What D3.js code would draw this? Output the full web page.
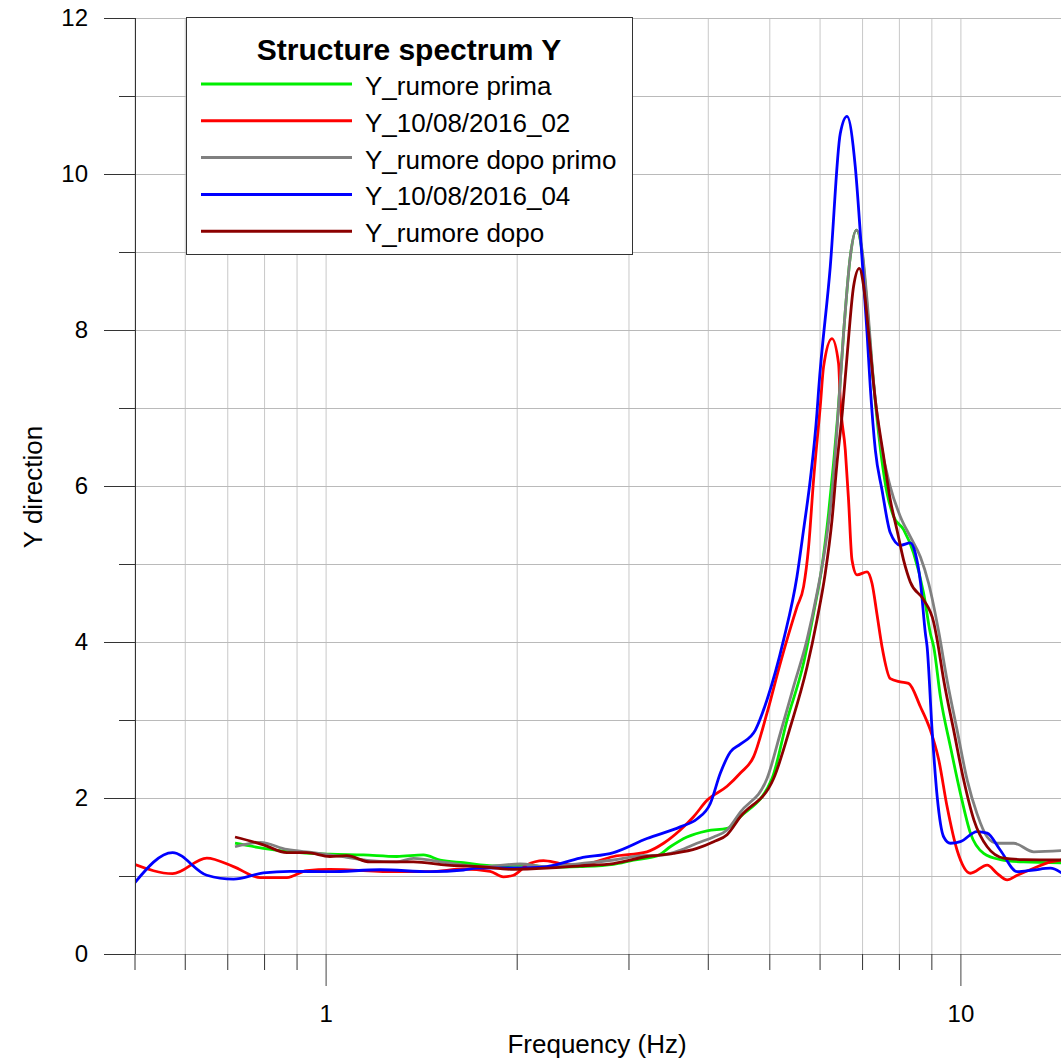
<!DOCTYPE html>
<html>
<head>
<meta charset="utf-8">
<script src="https://cdn.jsdelivr.net/npm/d3@7"></script>
<style>
  body { margin: 0; background: #fff; }
  svg { display: block; font-family: 'Liberation Sans', Arial, sans-serif; }
</style>
</head>
<body>
<div id="chart"></div>
<script>
// series: [frequency Hz, amplitude]
const rumorePrima = [
  [0.720, 1.42], [0.798, 1.355], [0.879, 1.31], [1.016, 1.28], [1.147, 1.27], [1.295, 1.25],
  [1.426, 1.27], [1.515, 1.205], [1.649, 1.17], [1.861, 1.13], [2.10, 1.14], [2.231, 1.11],
  [2.518, 1.12], [2.842, 1.15], [3.056, 1.205], [3.327, 1.256], [3.491, 1.375], [3.709, 1.50],
  [3.989, 1.58], [4.290, 1.61], [4.502, 1.76], [5.050, 2.25], [5.333, 3.0], [5.662, 3.73],
  [5.871, 4.37], [6.053, 4.97], [6.199, 5.65], [6.312, 6.29], [6.413, 6.93], [6.546, 7.96],
  [6.707, 8.94], [6.856, 9.28], [6.999, 9.0], [7.128, 8.3], [7.258, 7.53], [7.434, 6.67],
  [7.663, 5.91], [7.848, 5.61], [8.138, 5.44], [8.438, 5.14], [8.754, 4.62], [8.968, 4.11],
  [9.077, 3.94], [9.300, 3.30], [9.643, 2.66], [10.0, 2.06], [10.37, 1.55], [10.88, 1.29],
  [11.56, 1.21], [12.58, 1.18], [14.43, 1.17]
];
const event02 = [
  [0.50, 1.15], [0.574, 1.03], [0.650, 1.23], [0.716, 1.12], [0.789, 0.98], [0.869, 0.98],
  [0.934, 1.07], [1.016, 1.085], [1.295, 1.055], [1.461, 1.055], [1.649, 1.09], [1.816, 1.06],
  [1.906, 0.99], [1.977, 1.01], [2.075, 1.14], [2.204, 1.196], [2.342, 1.16], [2.518, 1.14],
  [2.842, 1.25], [3.208, 1.31], [3.407, 1.42], [3.620, 1.59], [3.799, 1.76], [3.989, 1.97],
  [4.290, 2.15], [4.502, 2.32], [4.724, 2.53], [4.959, 3.09], [5.204, 3.73], [5.528, 4.45],
  [5.662, 4.71], [5.766, 5.22], [5.871, 6.08], [6.015, 7.02], [6.088, 7.53], [6.276, 7.89],
  [6.428, 7.57], [6.468, 7.10], [6.587, 6.46], [6.665, 5.82], [6.749, 5.05], [6.873, 4.86],
  [7.128, 4.90], [7.258, 4.75], [7.391, 4.35], [7.525, 3.94], [7.755, 3.53], [8.041, 3.49],
  [8.286, 3.47], [8.650, 3.17], [8.968, 2.87], [9.244, 2.49], [9.528, 1.89], [9.881, 1.33],
  [10.37, 1.035], [11.02, 1.14], [11.42, 1.035], [11.85, 0.95], [12.29, 1.01], [13.05, 1.10],
  [13.86, 1.18], [14.43, 1.205]
];
const rumoreDopoPrimo = [
  [0.720, 1.375], [0.789, 1.43], [0.869, 1.34], [0.957, 1.30], [1.080, 1.24], [1.175, 1.196],
  [1.295, 1.18], [1.375, 1.227], [1.552, 1.17], [1.752, 1.12], [2.025, 1.154], [2.231, 1.12],
  [2.518, 1.16], [2.842, 1.205], [3.094, 1.256], [3.407, 1.27], [3.620, 1.33], [3.846, 1.42],
  [4.086, 1.50], [4.290, 1.59], [4.502, 1.82], [4.959, 2.25], [5.204, 2.83], [5.461, 3.43],
  [5.733, 4.03], [5.943, 4.62], [6.125, 5.22], [6.276, 5.91], [6.391, 6.72], [6.546, 7.96],
  [6.707, 8.94], [6.856, 9.28], [6.999, 9.03], [7.128, 8.38], [7.301, 7.32], [7.480, 6.59],
  [7.755, 5.99], [8.041, 5.61], [8.338, 5.35], [8.650, 5.09], [8.913, 4.75], [9.244, 4.13],
  [9.528, 3.51], [9.881, 2.87], [10.25, 2.23], [10.62, 1.80], [11.02, 1.50], [11.42, 1.42],
  [12.13, 1.42], [13.05, 1.31], [14.43, 1.325]
];
const event04 = [
  [0.50, 0.91], [0.574, 1.30], [0.650, 1.01], [0.716, 0.96], [0.798, 1.04], [0.879, 1.06],
  [1.016, 1.055], [1.219, 1.08], [1.461, 1.055], [1.649, 1.077], [1.731, 1.10], [2.10, 1.107],
  [2.231, 1.12], [2.518, 1.23], [2.842, 1.30], [3.208, 1.48], [3.620, 1.63], [3.846, 1.73],
  [4.037, 1.93], [4.187, 2.32], [4.341, 2.59], [4.502, 2.69], [4.753, 2.87], [4.959, 3.26],
  [5.267, 4.03], [5.528, 4.84], [5.662, 5.44], [5.801, 6.08], [5.943, 6.93], [5.979, 7.23],
  [6.237, 8.81], [6.468, 10.52], [6.627, 10.74], [6.830, 10.09], [6.956, 9.24], [7.128, 7.96],
  [7.214, 7.25], [7.345, 6.46], [7.525, 5.95], [7.755, 5.40], [8.041, 5.24], [8.338, 5.27],
  [8.491, 5.14], [8.650, 4.77], [8.807, 4.11], [8.862, 3.94], [9.024, 2.87], [9.191, 2.02],
  [9.413, 1.50], [9.643, 1.42], [10.0, 1.44], [10.62, 1.57], [11.02, 1.55], [11.56, 1.33],
  [12.29, 1.055], [13.03, 1.077], [13.86, 1.10], [14.43, 1.04]
];
const rumoreDopo = [
  [0.720, 1.50], [0.798, 1.40], [0.869, 1.30], [0.934, 1.30], [1.016, 1.25], [1.080, 1.26],
  [1.175, 1.18], [1.375, 1.18], [1.552, 1.14], [1.752, 1.12], [1.977, 1.085], [2.231, 1.10],
  [2.518, 1.13], [2.842, 1.16], [3.208, 1.25], [3.533, 1.29], [3.846, 1.355], [4.086, 1.44],
  [4.290, 1.53], [4.502, 1.76], [5.079, 2.25], [5.396, 2.91], [5.733, 3.68], [5.943, 4.28],
  [6.125, 4.88], [6.276, 5.56], [6.391, 6.29], [6.517, 6.95], [6.627, 7.65], [6.788, 8.56],
  [6.930, 8.79], [7.040, 8.56], [7.169, 7.96], [7.345, 7.10], [7.569, 6.38], [7.755, 5.82],
  [7.944, 5.44], [8.138, 5.05], [8.338, 4.77], [8.754, 4.54], [9.077, 4.25], [9.191, 4.03],
  [9.413, 3.51], [9.759, 2.87], [10.12, 2.23], [10.50, 1.72], [11.02, 1.375], [11.70, 1.23],
  [12.58, 1.21], [14.43, 1.205]
];

const seriesNames = ['Y_rumore prima', 'Y_10/08/2016_02', 'Y_rumore dopo primo', 'Y_10/08/2016_04', 'Y_rumore dopo'];
const seriesColors = ['#00ee00', '#ff0000', '#808080', '#0000ff', '#8b0000'];
const seriesData = [rumorePrima, event02, rumoreDopoPrimo, event04, rumoreDopo];

const xMajor = [1, 10];
const xMinor = [0.5, 0.6, 0.7, 0.8, 0.9, 2, 3, 4, 5, 6, 7, 8, 9, 20];
const yMajor = [0, 2, 4, 6, 8, 10, 12];
const yMinor = [1, 3, 5, 7, 9, 11];

const width = 1061, height = 1064;
const plotLeft = 135, plotTop = 18, plotBottom = 954;

const x = d3.scaleLog().domain([0.5, 20]).range([134.5, 1151.5]);
const y = d3.scaleLinear().domain([0, 12]).range([plotBottom, plotTop]);

const svg = d3.select('#chart').append('svg')
  .attr('width', width)
  .attr('height', height);

svg.append('clipPath').attr('id', 'plot-clip')
  .append('rect')
    .attr('x', plotLeft)
    .attr('y', plotTop - 2)
    .attr('width', width - plotLeft)
    .attr('height', plotBottom - plotTop + 4);

// grid
svg.append('g')
  .attr('transform', `translate(0, ${plotBottom})`)
  .call(d3.axisBottom(x).tickValues(xMajor.concat(xMinor)).tickSize(-(plotBottom - plotTop)).tickFormat(''))
  .call(g => g.select('.domain').remove())
  .call(g => g.selectAll('line').attr('stroke', '#c8c8c8').attr('stroke-width', 1));
svg.append('g')
  .attr('transform', `translate(${plotLeft}, 0)`)
  .call(d3.axisLeft(y).tickValues(yMajor.concat(yMinor)).tickSize(-(width - plotLeft)).tickFormat(''))
  .call(g => g.select('.domain').remove())
  .call(g => g.selectAll('line').attr('stroke', '#bababa').attr('stroke-width', 1));

// lines
const line = d3.line()
  .x(d => x(d[0]))
  .y(d => y(d[1]))
  .curve(d3.curveMonotoneX);

svg.append('g')
  .attr('clip-path', 'url(#plot-clip)')
  .selectAll('path')
  .data(seriesData)
  .join('path')
    .attr('d', line)
    .attr('fill', 'none')
    .attr('stroke', (d, i) => seriesColors[i])
    .attr('stroke-width', 2.8)
    .attr('stroke-linejoin', 'round');

// axes
svg.append('g')
  .attr('transform', `translate(0, ${plotBottom})`)
  .call(d3.axisBottom(x).tickValues(xMinor).tickSize(16).tickFormat(''))
  .call(g => g.select('.domain').attr('stroke', '#8a8a8a').attr('d', `M104,0.5H${width}`))
  .call(g => g.selectAll('line').attr('stroke', '#333'));
svg.append('g')
  .attr('transform', `translate(0, ${plotBottom})`)
  .call(d3.axisBottom(x).tickValues(xMajor).tickSize(32).tickPadding(19).tickFormat(d => d))
  .call(g => g.select('.domain').remove())
  .call(g => g.selectAll('line').attr('stroke', '#444'))
  .call(g => g.selectAll('text').attr('font-size', '24px').attr('fill', '#000'));
svg.append('g')
  .attr('transform', `translate(${plotLeft}, 0)`)
  .call(d3.axisLeft(y).tickValues(yMinor).tickSize(16).tickFormat(''))
  .call(g => g.select('.domain').attr('stroke', '#333').attr('d', `M0.5,${plotTop}V${plotBottom}`))
  .call(g => g.selectAll('line').attr('stroke', '#333'));
svg.append('g')
  .attr('transform', `translate(${plotLeft}, 0)`)
  .call(d3.axisLeft(y).tickValues(yMajor).tickSize(31).tickPadding(16).tickFormat(d => d))
  .call(g => g.select('.domain').remove())
  .call(g => g.selectAll('line').attr('stroke', '#333'))
  .call(g => g.selectAll('text').attr('font-size', '24px').attr('fill', '#000'));

// axis titles
svg.append('text')
  .attr('x', 597)
  .attr('y', 1053)
  .attr('text-anchor', 'middle')
  .attr('font-size', '26px')
  .text('Frequency (Hz)');
svg.append('text')
  .attr('transform', 'translate(42, 487) rotate(-90)')
  .attr('text-anchor', 'middle')
  .attr('font-size', '26px')
  .text('Y direction');

// legend
const legend = svg.append('g');
legend.append('rect')
  .attr('x', 186.5)
  .attr('y', 17.5)
  .attr('width', 446)
  .attr('height', 237)
  .attr('fill', '#fff')
  .attr('stroke', '#333')
  .attr('stroke-width', 1);
legend.append('text')
  .attr('x', 409)
  .attr('y', 60)
  .attr('text-anchor', 'middle')
  .attr('font-size', '30px')
  .attr('font-weight', 'bold')
  .text('Structure spectrum Y');
const rows = legend.selectAll('g.item')
  .data(seriesNames)
  .join('g')
    .attr('class', 'item')
    .attr('transform', (d, i) => `translate(0, ${84 + i * 36.8})`);
rows.append('line')
  .attr('x1', 201)
  .attr('x2', 352)
  .attr('stroke', (d, i) => seriesColors[i])
  .attr('stroke-width', 3);
rows.append('text')
  .attr('x', 365)
  .attr('y', 11)
  .attr('font-size', '26px')
  .text(d => d);
</script>
</body>
</html>
